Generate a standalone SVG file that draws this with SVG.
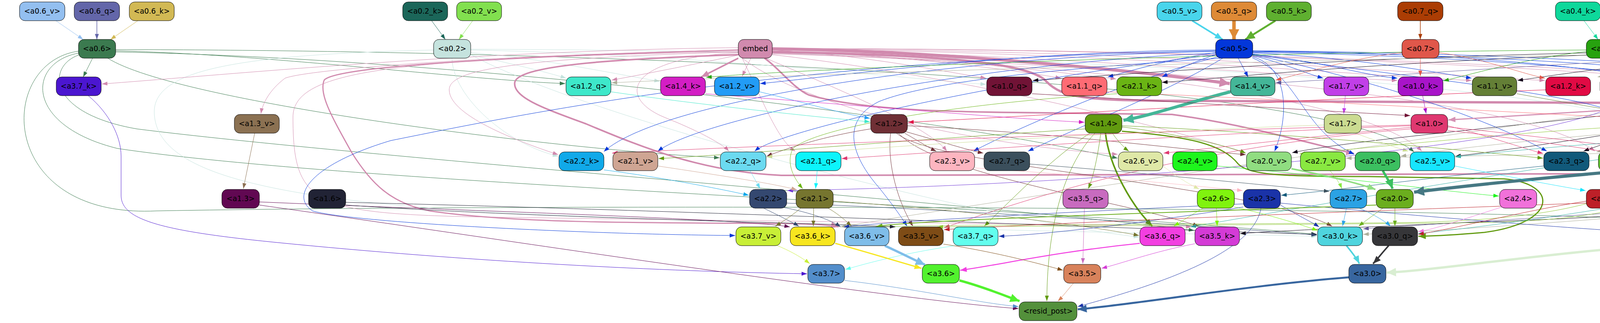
<svg xmlns="http://www.w3.org/2000/svg" width="5927" height="827" viewBox="0 0 5927 827">
<style>
.n rect{stroke:#000;stroke-width:1}
.n text{font-family:"DejaVu Sans","Liberation Sans",Verdana,sans-serif;font-size:18.67px;text-anchor:middle;fill:#000}
#edges path{fill:none}
.e06v{stroke:#93bff0;marker-end:url(#m06v)}.e06q{stroke:#6366a9;marker-end:url(#m06q)}.e06k{stroke:#d2b954;marker-end:url(#m06k)}
.e02k{stroke:#1b6659;marker-end:url(#m02k)}.e02v{stroke:#82e04f;marker-end:url(#m02v)}
.e05v{stroke:#49d5ec;marker-end:url(#m05v)}.e05q{stroke:#de8a36;marker-end:url(#m05q)}.e05k{stroke:#5fb030;marker-end:url(#m05k)}
.e07q{stroke:#ab3d04;marker-end:url(#m07q)}.e04k{stroke:#0ed89b;marker-end:url(#m04k)}.e04v{stroke:#5c18b1;marker-end:url(#m04v)}
.e00k{stroke:#114688;marker-end:url(#m00k)}.e00v{stroke:#ea345f;marker-end:url(#m00v)}.e03v{stroke:#fee50a;marker-end:url(#m03v)}
.e01k{stroke:#46c113;marker-end:url(#m01k)}.e01v{stroke:#f47e2d;marker-end:url(#m01v)}
.e06{stroke:#3b7a4f;marker-end:url(#m06)}.e02{stroke:#c5e3de;marker-end:url(#m02)}.eemb{stroke:#d18aae;marker-end:url(#memb)}
.e05{stroke:#0337da;marker-end:url(#m05)}.e07{stroke:#e0574a;marker-end:url(#m07)}.e04{stroke:#27a20f;marker-end:url(#m04)}
.e00{stroke:#12071a;marker-end:url(#m00)}.e03{stroke:#5f5596;marker-end:url(#m03)}.e01{stroke:#aeaf9b;marker-end:url(#m01)}
.e37k{stroke:#4b16d0;marker-end:url(#m37k)}.e12q{stroke:#3ee8ca;marker-end:url(#m12q)}.e14k{stroke:#d31ec4;marker-end:url(#m14k)}
.e12v{stroke:#229cf6;marker-end:url(#m12v)}.e10q{stroke:#711336;marker-end:url(#m10q)}.e11q{stroke:#fe6b74;marker-end:url(#m11q)}
.e21k{stroke:#6ab414;marker-end:url(#m21k)}.e14v{stroke:#44b698;marker-end:url(#m14v)}.e17v{stroke:#c13fe8;marker-end:url(#m17v)}
.e10k{stroke:#a814c9;marker-end:url(#m10k)}.e11v{stroke:#647f36;marker-end:url(#m11v)}.e12k{stroke:#e10a44;marker-end:url(#m12k)}
.e22v{stroke:#6d34d6;marker-end:url(#m22v)}.e15q{stroke:#4433cc;marker-end:url(#m15q)}.e15v{stroke:#552457;marker-end:url(#m15v)}
.e11k{stroke:#ef79e0;marker-end:url(#m11k)}.e10v{stroke:#d592b4;marker-end:url(#m10v)}
.e13v{stroke:#8b7152;marker-end:url(#m13v)}.e12{stroke:#6f2f35;marker-end:url(#m12)}.e14{stroke:#619a0f;marker-end:url(#m14)}
.e17{stroke:#cbdb91;marker-end:url(#m17)}.e10{stroke:#df3870;marker-end:url(#m10)}.e11{stroke:#8bc52f;marker-end:url(#m11)}
.e15{stroke:#33aea6;marker-end:url(#m15)}
.e22k{stroke:#11a9e9;marker-end:url(#m22k)}.e21v{stroke:#cfa593;marker-end:url(#m21v)}.e22q{stroke:#6bdaf0;marker-end:url(#m22q)}
.e21q{stroke:#0df4fb;marker-end:url(#m21q)}.e23v{stroke:#fdb5c0;marker-end:url(#m23v)}.e27q{stroke:#3b4f5c;marker-end:url(#m27q)}
.e26v{stroke:#dfe8a7;marker-end:url(#m26v)}.e24v{stroke:#1ef51d;marker-end:url(#m24v)}.e20v{stroke:#90dd81;marker-end:url(#m20v)}
.e27v{stroke:#89e841;marker-end:url(#m27v)}.e20q{stroke:#3cbf60;marker-end:url(#m20q)}.e25v{stroke:#17e5fe;marker-end:url(#m25v)}
.e23q{stroke:#11597a;marker-end:url(#m23q)}.e25k{stroke:#5dc42d;marker-end:url(#m25k)}.e20k{stroke:#467883;marker-end:url(#m20k)}
.e13{stroke:#610852;marker-end:url(#m13)}.e16{stroke:#212335;marker-end:url(#m16)}.e22{stroke:#344870;marker-end:url(#m22)}
.e21{stroke:#76752f;marker-end:url(#m21)}.e35q{stroke:#c86bbf;marker-end:url(#m35q)}.e26{stroke:#80f30e;marker-end:url(#m26)}
.e23{stroke:#1a33a8;marker-end:url(#m23)}.e27{stroke:#2ba2e4;marker-end:url(#m27)}.e20{stroke:#6bae1e;marker-end:url(#m20)}
.e24{stroke:#f171da;marker-end:url(#m24)}.e25{stroke:#bd2028;marker-end:url(#m25)}
.e37v{stroke:#c8ef37;marker-end:url(#m37v)}.e36k{stroke:#f7e61f;marker-end:url(#m36k)}.e36v{stroke:#7fbde9;marker-end:url(#m36v)}
.e35v{stroke:#7e4c16;marker-end:url(#m35v)}.e37q{stroke:#62feee;marker-end:url(#m37q)}.e36q{stroke:#f23fe1;marker-end:url(#m36q)}
.e35k{stroke:#d43bd6;marker-end:url(#m35k)}.e30k{stroke:#4fd4de;marker-end:url(#m30k)}.e30q{stroke:#363639;marker-end:url(#m30q)}
.e30v{stroke:#d9eed2;marker-end:url(#m30v)}
.e37{stroke:#538ecb;marker-end:url(#m37)}.e36{stroke:#52f22e;marker-end:url(#m36)}.e35{stroke:#d8825b;marker-end:url(#m35)}
.e30{stroke:#38669f;marker-end:url(#m30)}
.M05v{marker-end:url(#M05v)}.B05q{marker-end:url(#B05q)}.B05k{marker-end:url(#B05k)}.M01k{marker-end:url(#M01k)}
.M00v{marker-end:url(#M00v)}.Memb{marker-end:url(#Memb)}.Bemb{marker-end:url(#Bemb)}.B14v{marker-end:url(#B14v)}
.M10v{marker-end:url(#M10v)}.M14{marker-end:url(#M14)}.B20q{marker-end:url(#B20q)}.B20k{marker-end:url(#B20k)}
.M20v{marker-end:url(#M20v)}.M36k{marker-end:url(#M36k)}.B36v{marker-end:url(#B36v)}.M36q{marker-end:url(#M36q)}
.B36{marker-end:url(#B36)}.M30q{marker-end:url(#M30q)}.M30k{marker-end:url(#M30k)}.B30v{marker-end:url(#B30v)}.B30{marker-end:url(#B30)}
</style>
<defs>
<path id="ah" d="M0,0L14,5L0,10z"/>
<marker id="m06v" viewBox="0 0 14 10" refX="14" refY="5" markerWidth="14" markerHeight="10" markerUnits="userSpaceOnUse" orient="auto"><use href="#ah" fill="#93bff0"/></marker>
<marker id="m06q" viewBox="0 0 14 10" refX="14" refY="5" markerWidth="14" markerHeight="10" markerUnits="userSpaceOnUse" orient="auto"><use href="#ah" fill="#6366a9"/></marker>
<marker id="m06k" viewBox="0 0 14 10" refX="14" refY="5" markerWidth="14" markerHeight="10" markerUnits="userSpaceOnUse" orient="auto"><use href="#ah" fill="#d2b954"/></marker>
<marker id="m02k" viewBox="0 0 14 10" refX="14" refY="5" markerWidth="14" markerHeight="10" markerUnits="userSpaceOnUse" orient="auto"><use href="#ah" fill="#1b6659"/></marker>
<marker id="m02v" viewBox="0 0 14 10" refX="14" refY="5" markerWidth="14" markerHeight="10" markerUnits="userSpaceOnUse" orient="auto"><use href="#ah" fill="#82e04f"/></marker>
<marker id="m05v" viewBox="0 0 14 10" refX="14" refY="5" markerWidth="14" markerHeight="10" markerUnits="userSpaceOnUse" orient="auto"><use href="#ah" fill="#49d5ec"/></marker>
<marker id="m05q" viewBox="0 0 14 10" refX="14" refY="5" markerWidth="14" markerHeight="10" markerUnits="userSpaceOnUse" orient="auto"><use href="#ah" fill="#de8a36"/></marker>
<marker id="m05k" viewBox="0 0 14 10" refX="14" refY="5" markerWidth="14" markerHeight="10" markerUnits="userSpaceOnUse" orient="auto"><use href="#ah" fill="#5fb030"/></marker>
<marker id="m07q" viewBox="0 0 14 10" refX="14" refY="5" markerWidth="14" markerHeight="10" markerUnits="userSpaceOnUse" orient="auto"><use href="#ah" fill="#ab3d04"/></marker>
<marker id="m04k" viewBox="0 0 14 10" refX="14" refY="5" markerWidth="14" markerHeight="10" markerUnits="userSpaceOnUse" orient="auto"><use href="#ah" fill="#0ed89b"/></marker>
<marker id="m04v" viewBox="0 0 14 10" refX="14" refY="5" markerWidth="14" markerHeight="10" markerUnits="userSpaceOnUse" orient="auto"><use href="#ah" fill="#5c18b1"/></marker>
<marker id="m00k" viewBox="0 0 14 10" refX="14" refY="5" markerWidth="14" markerHeight="10" markerUnits="userSpaceOnUse" orient="auto"><use href="#ah" fill="#114688"/></marker>
<marker id="m00v" viewBox="0 0 14 10" refX="14" refY="5" markerWidth="14" markerHeight="10" markerUnits="userSpaceOnUse" orient="auto"><use href="#ah" fill="#ea345f"/></marker>
<marker id="m03v" viewBox="0 0 14 10" refX="14" refY="5" markerWidth="14" markerHeight="10" markerUnits="userSpaceOnUse" orient="auto"><use href="#ah" fill="#fee50a"/></marker>
<marker id="m01k" viewBox="0 0 14 10" refX="14" refY="5" markerWidth="14" markerHeight="10" markerUnits="userSpaceOnUse" orient="auto"><use href="#ah" fill="#46c113"/></marker>
<marker id="m01v" viewBox="0 0 14 10" refX="14" refY="5" markerWidth="14" markerHeight="10" markerUnits="userSpaceOnUse" orient="auto"><use href="#ah" fill="#f47e2d"/></marker>
<marker id="m06" viewBox="0 0 14 10" refX="14" refY="5" markerWidth="14" markerHeight="10" markerUnits="userSpaceOnUse" orient="auto"><use href="#ah" fill="#3b7a4f"/></marker>
<marker id="m02" viewBox="0 0 14 10" refX="14" refY="5" markerWidth="14" markerHeight="10" markerUnits="userSpaceOnUse" orient="auto"><use href="#ah" fill="#c5e3de"/></marker>
<marker id="memb" viewBox="0 0 14 10" refX="14" refY="5" markerWidth="14" markerHeight="10" markerUnits="userSpaceOnUse" orient="auto"><use href="#ah" fill="#d18aae"/></marker>
<marker id="m05" viewBox="0 0 14 10" refX="14" refY="5" markerWidth="14" markerHeight="10" markerUnits="userSpaceOnUse" orient="auto"><use href="#ah" fill="#0337da"/></marker>
<marker id="m07" viewBox="0 0 14 10" refX="14" refY="5" markerWidth="14" markerHeight="10" markerUnits="userSpaceOnUse" orient="auto"><use href="#ah" fill="#e0574a"/></marker>
<marker id="m04" viewBox="0 0 14 10" refX="14" refY="5" markerWidth="14" markerHeight="10" markerUnits="userSpaceOnUse" orient="auto"><use href="#ah" fill="#27a20f"/></marker>
<marker id="m00" viewBox="0 0 14 10" refX="14" refY="5" markerWidth="14" markerHeight="10" markerUnits="userSpaceOnUse" orient="auto"><use href="#ah" fill="#12071a"/></marker>
<marker id="m03" viewBox="0 0 14 10" refX="14" refY="5" markerWidth="14" markerHeight="10" markerUnits="userSpaceOnUse" orient="auto"><use href="#ah" fill="#5f5596"/></marker>
<marker id="m01" viewBox="0 0 14 10" refX="14" refY="5" markerWidth="14" markerHeight="10" markerUnits="userSpaceOnUse" orient="auto"><use href="#ah" fill="#aeaf9b"/></marker>
<marker id="m37k" viewBox="0 0 14 10" refX="14" refY="5" markerWidth="14" markerHeight="10" markerUnits="userSpaceOnUse" orient="auto"><use href="#ah" fill="#4b16d0"/></marker>
<marker id="m12q" viewBox="0 0 14 10" refX="14" refY="5" markerWidth="14" markerHeight="10" markerUnits="userSpaceOnUse" orient="auto"><use href="#ah" fill="#3ee8ca"/></marker>
<marker id="m14k" viewBox="0 0 14 10" refX="14" refY="5" markerWidth="14" markerHeight="10" markerUnits="userSpaceOnUse" orient="auto"><use href="#ah" fill="#d31ec4"/></marker>
<marker id="m12v" viewBox="0 0 14 10" refX="14" refY="5" markerWidth="14" markerHeight="10" markerUnits="userSpaceOnUse" orient="auto"><use href="#ah" fill="#229cf6"/></marker>
<marker id="m10q" viewBox="0 0 14 10" refX="14" refY="5" markerWidth="14" markerHeight="10" markerUnits="userSpaceOnUse" orient="auto"><use href="#ah" fill="#711336"/></marker>
<marker id="m11q" viewBox="0 0 14 10" refX="14" refY="5" markerWidth="14" markerHeight="10" markerUnits="userSpaceOnUse" orient="auto"><use href="#ah" fill="#fe6b74"/></marker>
<marker id="m21k" viewBox="0 0 14 10" refX="14" refY="5" markerWidth="14" markerHeight="10" markerUnits="userSpaceOnUse" orient="auto"><use href="#ah" fill="#6ab414"/></marker>
<marker id="m14v" viewBox="0 0 14 10" refX="14" refY="5" markerWidth="14" markerHeight="10" markerUnits="userSpaceOnUse" orient="auto"><use href="#ah" fill="#44b698"/></marker>
<marker id="m17v" viewBox="0 0 14 10" refX="14" refY="5" markerWidth="14" markerHeight="10" markerUnits="userSpaceOnUse" orient="auto"><use href="#ah" fill="#c13fe8"/></marker>
<marker id="m10k" viewBox="0 0 14 10" refX="14" refY="5" markerWidth="14" markerHeight="10" markerUnits="userSpaceOnUse" orient="auto"><use href="#ah" fill="#a814c9"/></marker>
<marker id="m11v" viewBox="0 0 14 10" refX="14" refY="5" markerWidth="14" markerHeight="10" markerUnits="userSpaceOnUse" orient="auto"><use href="#ah" fill="#647f36"/></marker>
<marker id="m12k" viewBox="0 0 14 10" refX="14" refY="5" markerWidth="14" markerHeight="10" markerUnits="userSpaceOnUse" orient="auto"><use href="#ah" fill="#e10a44"/></marker>
<marker id="m22v" viewBox="0 0 14 10" refX="14" refY="5" markerWidth="14" markerHeight="10" markerUnits="userSpaceOnUse" orient="auto"><use href="#ah" fill="#6d34d6"/></marker>
<marker id="m15q" viewBox="0 0 14 10" refX="14" refY="5" markerWidth="14" markerHeight="10" markerUnits="userSpaceOnUse" orient="auto"><use href="#ah" fill="#4433cc"/></marker>
<marker id="m15v" viewBox="0 0 14 10" refX="14" refY="5" markerWidth="14" markerHeight="10" markerUnits="userSpaceOnUse" orient="auto"><use href="#ah" fill="#552457"/></marker>
<marker id="m11k" viewBox="0 0 14 10" refX="14" refY="5" markerWidth="14" markerHeight="10" markerUnits="userSpaceOnUse" orient="auto"><use href="#ah" fill="#ef79e0"/></marker>
<marker id="m10v" viewBox="0 0 14 10" refX="14" refY="5" markerWidth="14" markerHeight="10" markerUnits="userSpaceOnUse" orient="auto"><use href="#ah" fill="#d592b4"/></marker>
<marker id="m13v" viewBox="0 0 14 10" refX="14" refY="5" markerWidth="14" markerHeight="10" markerUnits="userSpaceOnUse" orient="auto"><use href="#ah" fill="#8b7152"/></marker>
<marker id="m12" viewBox="0 0 14 10" refX="14" refY="5" markerWidth="14" markerHeight="10" markerUnits="userSpaceOnUse" orient="auto"><use href="#ah" fill="#6f2f35"/></marker>
<marker id="m14" viewBox="0 0 14 10" refX="14" refY="5" markerWidth="14" markerHeight="10" markerUnits="userSpaceOnUse" orient="auto"><use href="#ah" fill="#619a0f"/></marker>
<marker id="m17" viewBox="0 0 14 10" refX="14" refY="5" markerWidth="14" markerHeight="10" markerUnits="userSpaceOnUse" orient="auto"><use href="#ah" fill="#cbdb91"/></marker>
<marker id="m10" viewBox="0 0 14 10" refX="14" refY="5" markerWidth="14" markerHeight="10" markerUnits="userSpaceOnUse" orient="auto"><use href="#ah" fill="#df3870"/></marker>
<marker id="m11" viewBox="0 0 14 10" refX="14" refY="5" markerWidth="14" markerHeight="10" markerUnits="userSpaceOnUse" orient="auto"><use href="#ah" fill="#8bc52f"/></marker>
<marker id="m15" viewBox="0 0 14 10" refX="14" refY="5" markerWidth="14" markerHeight="10" markerUnits="userSpaceOnUse" orient="auto"><use href="#ah" fill="#33aea6"/></marker>
<marker id="m22k" viewBox="0 0 14 10" refX="14" refY="5" markerWidth="14" markerHeight="10" markerUnits="userSpaceOnUse" orient="auto"><use href="#ah" fill="#11a9e9"/></marker>
<marker id="m21v" viewBox="0 0 14 10" refX="14" refY="5" markerWidth="14" markerHeight="10" markerUnits="userSpaceOnUse" orient="auto"><use href="#ah" fill="#cfa593"/></marker>
<marker id="m22q" viewBox="0 0 14 10" refX="14" refY="5" markerWidth="14" markerHeight="10" markerUnits="userSpaceOnUse" orient="auto"><use href="#ah" fill="#6bdaf0"/></marker>
<marker id="m21q" viewBox="0 0 14 10" refX="14" refY="5" markerWidth="14" markerHeight="10" markerUnits="userSpaceOnUse" orient="auto"><use href="#ah" fill="#0df4fb"/></marker>
<marker id="m23v" viewBox="0 0 14 10" refX="14" refY="5" markerWidth="14" markerHeight="10" markerUnits="userSpaceOnUse" orient="auto"><use href="#ah" fill="#fdb5c0"/></marker>
<marker id="m27q" viewBox="0 0 14 10" refX="14" refY="5" markerWidth="14" markerHeight="10" markerUnits="userSpaceOnUse" orient="auto"><use href="#ah" fill="#3b4f5c"/></marker>
<marker id="m26v" viewBox="0 0 14 10" refX="14" refY="5" markerWidth="14" markerHeight="10" markerUnits="userSpaceOnUse" orient="auto"><use href="#ah" fill="#dfe8a7"/></marker>
<marker id="m24v" viewBox="0 0 14 10" refX="14" refY="5" markerWidth="14" markerHeight="10" markerUnits="userSpaceOnUse" orient="auto"><use href="#ah" fill="#1ef51d"/></marker>
<marker id="m20v" viewBox="0 0 14 10" refX="14" refY="5" markerWidth="14" markerHeight="10" markerUnits="userSpaceOnUse" orient="auto"><use href="#ah" fill="#90dd81"/></marker>
<marker id="m27v" viewBox="0 0 14 10" refX="14" refY="5" markerWidth="14" markerHeight="10" markerUnits="userSpaceOnUse" orient="auto"><use href="#ah" fill="#89e841"/></marker>
<marker id="m20q" viewBox="0 0 14 10" refX="14" refY="5" markerWidth="14" markerHeight="10" markerUnits="userSpaceOnUse" orient="auto"><use href="#ah" fill="#3cbf60"/></marker>
<marker id="m25v" viewBox="0 0 14 10" refX="14" refY="5" markerWidth="14" markerHeight="10" markerUnits="userSpaceOnUse" orient="auto"><use href="#ah" fill="#17e5fe"/></marker>
<marker id="m23q" viewBox="0 0 14 10" refX="14" refY="5" markerWidth="14" markerHeight="10" markerUnits="userSpaceOnUse" orient="auto"><use href="#ah" fill="#11597a"/></marker>
<marker id="m25k" viewBox="0 0 14 10" refX="14" refY="5" markerWidth="14" markerHeight="10" markerUnits="userSpaceOnUse" orient="auto"><use href="#ah" fill="#5dc42d"/></marker>
<marker id="m20k" viewBox="0 0 14 10" refX="14" refY="5" markerWidth="14" markerHeight="10" markerUnits="userSpaceOnUse" orient="auto"><use href="#ah" fill="#467883"/></marker>
<marker id="m13" viewBox="0 0 14 10" refX="14" refY="5" markerWidth="14" markerHeight="10" markerUnits="userSpaceOnUse" orient="auto"><use href="#ah" fill="#610852"/></marker>
<marker id="m16" viewBox="0 0 14 10" refX="14" refY="5" markerWidth="14" markerHeight="10" markerUnits="userSpaceOnUse" orient="auto"><use href="#ah" fill="#212335"/></marker>
<marker id="m22" viewBox="0 0 14 10" refX="14" refY="5" markerWidth="14" markerHeight="10" markerUnits="userSpaceOnUse" orient="auto"><use href="#ah" fill="#344870"/></marker>
<marker id="m21" viewBox="0 0 14 10" refX="14" refY="5" markerWidth="14" markerHeight="10" markerUnits="userSpaceOnUse" orient="auto"><use href="#ah" fill="#76752f"/></marker>
<marker id="m35q" viewBox="0 0 14 10" refX="14" refY="5" markerWidth="14" markerHeight="10" markerUnits="userSpaceOnUse" orient="auto"><use href="#ah" fill="#c86bbf"/></marker>
<marker id="m26" viewBox="0 0 14 10" refX="14" refY="5" markerWidth="14" markerHeight="10" markerUnits="userSpaceOnUse" orient="auto"><use href="#ah" fill="#80f30e"/></marker>
<marker id="m23" viewBox="0 0 14 10" refX="14" refY="5" markerWidth="14" markerHeight="10" markerUnits="userSpaceOnUse" orient="auto"><use href="#ah" fill="#1a33a8"/></marker>
<marker id="m27" viewBox="0 0 14 10" refX="14" refY="5" markerWidth="14" markerHeight="10" markerUnits="userSpaceOnUse" orient="auto"><use href="#ah" fill="#2ba2e4"/></marker>
<marker id="m20" viewBox="0 0 14 10" refX="14" refY="5" markerWidth="14" markerHeight="10" markerUnits="userSpaceOnUse" orient="auto"><use href="#ah" fill="#6bae1e"/></marker>
<marker id="m24" viewBox="0 0 14 10" refX="14" refY="5" markerWidth="14" markerHeight="10" markerUnits="userSpaceOnUse" orient="auto"><use href="#ah" fill="#f171da"/></marker>
<marker id="m25" viewBox="0 0 14 10" refX="14" refY="5" markerWidth="14" markerHeight="10" markerUnits="userSpaceOnUse" orient="auto"><use href="#ah" fill="#bd2028"/></marker>
<marker id="m37v" viewBox="0 0 14 10" refX="14" refY="5" markerWidth="14" markerHeight="10" markerUnits="userSpaceOnUse" orient="auto"><use href="#ah" fill="#c8ef37"/></marker>
<marker id="m36k" viewBox="0 0 14 10" refX="14" refY="5" markerWidth="14" markerHeight="10" markerUnits="userSpaceOnUse" orient="auto"><use href="#ah" fill="#f7e61f"/></marker>
<marker id="m36v" viewBox="0 0 14 10" refX="14" refY="5" markerWidth="14" markerHeight="10" markerUnits="userSpaceOnUse" orient="auto"><use href="#ah" fill="#7fbde9"/></marker>
<marker id="m35v" viewBox="0 0 14 10" refX="14" refY="5" markerWidth="14" markerHeight="10" markerUnits="userSpaceOnUse" orient="auto"><use href="#ah" fill="#7e4c16"/></marker>
<marker id="m37q" viewBox="0 0 14 10" refX="14" refY="5" markerWidth="14" markerHeight="10" markerUnits="userSpaceOnUse" orient="auto"><use href="#ah" fill="#62feee"/></marker>
<marker id="m36q" viewBox="0 0 14 10" refX="14" refY="5" markerWidth="14" markerHeight="10" markerUnits="userSpaceOnUse" orient="auto"><use href="#ah" fill="#f23fe1"/></marker>
<marker id="m35k" viewBox="0 0 14 10" refX="14" refY="5" markerWidth="14" markerHeight="10" markerUnits="userSpaceOnUse" orient="auto"><use href="#ah" fill="#d43bd6"/></marker>
<marker id="m30k" viewBox="0 0 14 10" refX="14" refY="5" markerWidth="14" markerHeight="10" markerUnits="userSpaceOnUse" orient="auto"><use href="#ah" fill="#4fd4de"/></marker>
<marker id="m30q" viewBox="0 0 14 10" refX="14" refY="5" markerWidth="14" markerHeight="10" markerUnits="userSpaceOnUse" orient="auto"><use href="#ah" fill="#363639"/></marker>
<marker id="m30v" viewBox="0 0 14 10" refX="14" refY="5" markerWidth="14" markerHeight="10" markerUnits="userSpaceOnUse" orient="auto"><use href="#ah" fill="#d9eed2"/></marker>
<marker id="m37" viewBox="0 0 14 10" refX="14" refY="5" markerWidth="14" markerHeight="10" markerUnits="userSpaceOnUse" orient="auto"><use href="#ah" fill="#538ecb"/></marker>
<marker id="m36" viewBox="0 0 14 10" refX="14" refY="5" markerWidth="14" markerHeight="10" markerUnits="userSpaceOnUse" orient="auto"><use href="#ah" fill="#52f22e"/></marker>
<marker id="m35" viewBox="0 0 14 10" refX="14" refY="5" markerWidth="14" markerHeight="10" markerUnits="userSpaceOnUse" orient="auto"><use href="#ah" fill="#d8825b"/></marker>
<marker id="m30" viewBox="0 0 14 10" refX="14" refY="5" markerWidth="14" markerHeight="10" markerUnits="userSpaceOnUse" orient="auto"><use href="#ah" fill="#38669f"/></marker>
<marker id="M05v" viewBox="0 0 14 10" refX="14" refY="5" markerWidth="20" markerHeight="16" preserveAspectRatio="none" markerUnits="userSpaceOnUse" orient="auto"><use href="#ah" fill="#49d5ec"/></marker>
<marker id="B05q" viewBox="0 0 14 10" refX="14" refY="5" markerWidth="26" markerHeight="27" preserveAspectRatio="none" markerUnits="userSpaceOnUse" orient="auto"><use href="#ah" fill="#de8a36"/></marker>
<marker id="B05k" viewBox="0 0 14 10" refX="14" refY="5" markerWidth="24" markerHeight="22" preserveAspectRatio="none" markerUnits="userSpaceOnUse" orient="auto"><use href="#ah" fill="#5fb030"/></marker>
<marker id="M01k" viewBox="0 0 14 10" refX="14" refY="5" markerWidth="20" markerHeight="16" preserveAspectRatio="none" markerUnits="userSpaceOnUse" orient="auto"><use href="#ah" fill="#46c113"/></marker>
<marker id="M00v" viewBox="0 0 14 10" refX="14" refY="5" markerWidth="17" markerHeight="13" preserveAspectRatio="none" markerUnits="userSpaceOnUse" orient="auto"><use href="#ah" fill="#ea345f"/></marker>
<marker id="Memb" viewBox="0 0 14 10" refX="14" refY="5" markerWidth="20" markerHeight="16" preserveAspectRatio="none" markerUnits="userSpaceOnUse" orient="auto"><use href="#ah" fill="#d18aae"/></marker>
<marker id="Bemb" viewBox="0 0 14 10" refX="14" refY="5" markerWidth="26" markerHeight="25" preserveAspectRatio="none" markerUnits="userSpaceOnUse" orient="auto"><use href="#ah" fill="#d18aae"/></marker>
<marker id="B14v" viewBox="0 0 14 10" refX="14" refY="5" markerWidth="26" markerHeight="25" preserveAspectRatio="none" markerUnits="userSpaceOnUse" orient="auto"><use href="#ah" fill="#44b698"/></marker>
<marker id="M10v" viewBox="0 0 14 10" refX="14" refY="5" markerWidth="18" markerHeight="14" preserveAspectRatio="none" markerUnits="userSpaceOnUse" orient="auto"><use href="#ah" fill="#d592b4"/></marker>
<marker id="M14" viewBox="0 0 14 10" refX="14" refY="5" markerWidth="19" markerHeight="15" preserveAspectRatio="none" markerUnits="userSpaceOnUse" orient="auto"><use href="#ah" fill="#619a0f"/></marker>
<marker id="B20q" viewBox="0 0 14 10" refX="14" refY="5" markerWidth="24" markerHeight="22" preserveAspectRatio="none" markerUnits="userSpaceOnUse" orient="auto"><use href="#ah" fill="#3cbf60"/></marker>
<marker id="B20k" viewBox="0 0 14 10" refX="14" refY="5" markerWidth="26" markerHeight="25" preserveAspectRatio="none" markerUnits="userSpaceOnUse" orient="auto"><use href="#ah" fill="#467883"/></marker>
<marker id="M20v" viewBox="0 0 14 10" refX="14" refY="5" markerWidth="20" markerHeight="16" preserveAspectRatio="none" markerUnits="userSpaceOnUse" orient="auto"><use href="#ah" fill="#90dd81"/></marker>
<marker id="M36k" viewBox="0 0 14 10" refX="14" refY="5" markerWidth="18" markerHeight="14" preserveAspectRatio="none" markerUnits="userSpaceOnUse" orient="auto"><use href="#ah" fill="#f7e61f"/></marker>
<marker id="B36v" viewBox="0 0 14 10" refX="14" refY="5" markerWidth="24" markerHeight="22" preserveAspectRatio="none" markerUnits="userSpaceOnUse" orient="auto"><use href="#ah" fill="#7fbde9"/></marker>
<marker id="M36q" viewBox="0 0 14 10" refX="14" refY="5" markerWidth="17" markerHeight="13" preserveAspectRatio="none" markerUnits="userSpaceOnUse" orient="auto"><use href="#ah" fill="#f23fe1"/></marker>
<marker id="B36" viewBox="0 0 14 10" refX="14" refY="5" markerWidth="24" markerHeight="22" preserveAspectRatio="none" markerUnits="userSpaceOnUse" orient="auto"><use href="#ah" fill="#52f22e"/></marker>
<marker id="M30q" viewBox="0 0 14 10" refX="14" refY="5" markerWidth="20" markerHeight="16" preserveAspectRatio="none" markerUnits="userSpaceOnUse" orient="auto"><use href="#ah" fill="#363639"/></marker>
<marker id="M30k" viewBox="0 0 14 10" refX="14" refY="5" markerWidth="20" markerHeight="16" preserveAspectRatio="none" markerUnits="userSpaceOnUse" orient="auto"><use href="#ah" fill="#4fd4de"/></marker>
<marker id="B30v" viewBox="0 0 14 10" refX="14" refY="5" markerWidth="24" markerHeight="22" preserveAspectRatio="none" markerUnits="userSpaceOnUse" orient="auto"><use href="#ah" fill="#d9eed2"/></marker>
<marker id="B30" viewBox="0 0 14 10" refX="14" refY="5" markerWidth="23" markerHeight="20" preserveAspectRatio="none" markerUnits="userSpaceOnUse" orient="auto"><use href="#ah" fill="#38669f"/></marker>
</defs>
<rect width="5927" height="827" fill="#fff"/>
<g id="edges">
<path class="e06v" d="M143,53L213,101"/>
<path class="e06q" stroke-width="1.5" d="M248,53L248,101"/>
<path class="e06k" d="M353,53L283,101"/>
<path class="e02k" d="M1105,53L1140,101"/>
<path class="e02v" d="M1210,53L1175,101"/>
<path class="e05v M05v" stroke-width="4" d="M3052,53L3130,101"/>
<path class="e05q B05q" stroke-width="9" d="M3159,53L3159,101"/>
<path class="e05k B05k" stroke-width="5" d="M3265,53L3188,101"/>
<path class="e07q" stroke-width="1.5" d="M3636,53L3636,101"/>
<path class="e04k" d="M4055,53L4091,101"/>
<path class="e04v" d="M4161,53L4126,101"/>
<path class="e00k" stroke-width="1.5" d="M4708,53L4778,101"/>
<path class="e00v M00v" stroke-width="2.5" d="M4812,53L4812,101"/>
<path class="e03v" d="M4948,53L4943,101"/>
<path class="e01k M01k" stroke-width="4" d="M5148,53L5177,101"/>
<path class="e01v" d="M5253,53L5208,101"/>
<path class="e06" d="M237,149L213,197"/>
<path class="e06" d="M296,130C700,140 1200,205 1447,214"/>
<path class="e06" d="M276,149C450,260 1400,380 1842,404"/>
<path class="e06" d="M201,131C-10,160 -10,560 400,540C1500,520 4300,530 4405,581"/>
<path class="e06" d="M201,136C70,160 60,320 300,380C900,470 2500,520 3371,600"/>
<path class="e06" d="M201,141C120,170 120,290 350,330C900,400 2500,520 3057,590"/>
<path class="e06" d="M296,127C1500,128 3400,200 3620,389"/>
<path class="e06" d="M296,133C1200,150 2400,300 2861,405"/>
<path class="e02" d="M1200,140C1300,160 1400,185 1449,200"/>
<path class="e02" d="M1205,135C1400,150 1600,195 1689,208"/>
<path class="e02" d="M1205,128C1800,140 2300,200 2524,216"/>
<path class="e02" d="M1157,149C1160,250 1300,370 1429,400"/>
<path class="e02" d="M1205,140C1500,300 2500,560 2916,607"/>
<path class="e02" d="M1205,126C2500,130 4200,200 4423,389"/>
<path class="e02" d="M1110,128C600,140 390,180 395,290C400,420 600,500 1200,540C2200,590 3200,600 3371,605"/>
<path class="eemb" d="M1890,122C1200,130 600,190 261,215"/>
<path class="eemb" d="M1890,128C1300,140 800,175 730,200C690,230 672,265 668,291"/>
<path class="eemb" d="M1895,140C1800,160 1650,190 1566,205"/>
<path class="eemb Memb" stroke-width="4" d="M1890,149L1795,197"/>
<path class="eemb" d="M1922,149L1900,195"/>
<path class="eemb" d="M1890,135C1600,150 1580,250 1700,300C1800,340 1850,370 1866,387"/>
<path class="eemb" d="M1890,133C1300,150 1150,180 1150,230C1150,300 1350,370 1429,396"/>
<path class="eemb" d="M1900,149C1950,250 1990,360 2036,387"/>
<path class="eemb" d="M1960,149C2200,250 2380,330 2424,387"/>
<path class="eemb" d="M1977,128C2200,140 2400,180 2524,200"/>
<path class="eemb" d="M1977,130C2300,140 2600,180 2716,200"/>
<path class="eemb" d="M1977,132C2400,145 2750,190 2857,202"/>
<path class="eemb Bemb" stroke-width="8" d="M1977,125C2400,130 2900,180 3148,214"/>
<path class="eemb" d="M1977,127C2600,135 3300,195 3577,206"/>
<path class="eemb" d="M1977,126C2800,130 3500,195 3767,206"/>
<path class="eemb" d="M1977,125C3000,128 3700,195 3955,206"/>
<path class="eemb" d="M1977,124C3200,126 4000,180 4232,197"/>
<path class="eemb" d="M1977,124C3400,125 4300,195 4564,206"/>
<path class="eemb Bemb" stroke-width="6" d="M1977,133C2400,140 2640,160 2680,210C2720,250 2780,257 3000,258L4250,264C4420,272 4455,320 4447,387"/>
<path class="eemb Memb" stroke-width="4" d="M1957,149C1990,170 2030,225 2070,243C2200,280 2400,286 2600,288L3000,293C3200,320 3400,380 3466,393"/>
<path class="eemb Memb" stroke-width="4" d="M1890,140C1600,150 1330,165 1318,210C1310,250 1400,280 1500,317C1650,380 1800,440 2000,449L4100,445C4300,460 4400,530 4432,579"/>
<path class="eemb Memb" stroke-width="3" d="M1890,128C1300,145 860,170 830,205C815,240 850,300 900,390C950,470 1000,520 1100,540C1300,570 1600,571 2000,572C2100,574 2135,578 2147,581"/>
<path class="eemb" d="M1890,132C1000,150 750,180 750,300C750,520 800,545 1200,555C2200,570 2900,575 3050,581"/>
<path class="eemb" d="M1900,149C2100,300 2600,380 2861,395"/>
<path class="eemb" d="M1977,138C2800,160 3500,250 3640,387"/>
<path class="eemb" d="M1977,136C3000,170 3900,250 4083,387"/>
<path class="eemb" d="M1977,140C2500,200 3000,330 3189,392"/>
<path class="e05" d="M3170,149L3195,197"/>
<path class="e05" d="M3206,142C3280,160 3350,190 3387,200"/>
<path class="e05" d="M3206,145C3300,170 3300,300 3263,387"/>
<path class="e05" d="M3206,148C3330,200 3330,330 3467,395"/>
<path class="e05" d="M3206,140C3500,200 3800,300 3960,387"/>
<path class="e05" d="M3206,139C3600,200 4180,250 4180,320C4180,360 4170,375 4163,387"/>
<path class="e05" d="M3206,138C3400,160 3500,195 3577,200"/>
<path class="e05" d="M3206,135C3500,150 3700,190 3767,200"/>
<path class="e05" d="M3206,132C3800,140 4250,170 4372,197"/>
<path class="e05" d="M3206,130C4000,135 4600,190 4753,205"/>
<path class="e05" d="M3206,134C4200,150 4600,250 4900,290C5000,330 4950,420 4800,480C4700,530 4600,570 4506,590"/>
<path class="e05" d="M3206,131C4200,140 4500,250 4500,320C4500,360 4480,380 4470,387"/>
<path class="e05" d="M3112,128C2600,130 2100,200 1946,214"/>
<path class="e05" d="M3112,135C3000,150 2900,180 2836,197"/>
<path class="e05" d="M3112,140C3050,160 3000,185 2975,197"/>
<path class="e05" d="M3112,132C2500,140 1700,250 1546,388"/>
<path class="e05" d="M3112,136C2500,160 1800,300 1684,387"/>
<path class="e05" d="M3112,140C2600,200 2000,330 1932,387"/>
<path class="e05" d="M3120,145C2900,200 2600,330 2492,387"/>
<path class="e05" d="M3130,149C3000,230 2750,330 2632,387"/>
<path class="e05" d="M3125,149C2800,170 2400,200 2250,260C2150,310 2180,400 2250,480C2290,530 2310,560 2322,579"/>
<path class="e05" d="M3112,130C2000,150 1300,300 1000,360C800,420 740,500 800,540C900,570 1500,600 1882,603"/>
<path class="e00" d="M4765,143C4720,160 4690,185 4672,195"/>
<path class="e00" d="M4764,135C4500,150 4300,180 4219,197"/>
<path class="e00" d="M4764,138C4550,150 4420,180 4358,197"/>
<path class="e00" d="M4764,130C4300,140 4000,190 3885,206"/>
<path class="e00" d="M4764,128C3800,130 3200,195 2975,211"/>
<path class="e00" d="M4764,127C3600,128 2900,190 2644,206"/>
<path class="e00" d="M4790,149C4600,250 4200,330 4054,387"/>
<path class="e00" d="M4800,149C4700,300 4400,370 4209,396"/>
<path class="e00" d="M4859,140C4900,200 4300,330 3726,400"/>
<path class="e00" d="M4859,145C4900,250 3600,330 3308,391"/>
<path class="e00" d="M4859,138C5100,300 4800,520 4000,560C3500,580 3300,590 3175,598"/>
<path class="e00" d="M4859,136C5400,170 5820,200 5820,290L5820,420C5820,480 5600,520 5400,540C5000,580 4700,600 4506,604"/>
<path class="e01" d="M5138,128C4000,130 2000,190 1566,212"/>
<path class="e01" d="M5138,132C4600,140 4200,180 4090,197"/>
<path class="e01" d="M5138,136C4800,150 4550,195 4493,208"/>
<path class="e01" d="M5138,139C4900,160 4750,195 4682,206"/>
<path class="e01" d="M5140,143C5000,170 4920,200 4871,206"/>
<path class="e01" d="M5150,149C5000,300 4300,340 4087,389"/>
<path class="e01" d="M5138,145C4000,300 2500,520 2152,581"/>
<path class="e01" d="M5233,135C5900,150 5920,300 5920,420C5920,500 5700,525 5500,525C5000,540 4700,585 4506,592"/>
<path class="e01" d="M5233,128C5480,140 5480,250 5300,258C4800,290 4000,340 3586,400"/>
<path class="e01" d="M5233,132C5700,150 5760,260 5600,320C5300,380 4200,390 3446,405"/>
<path class="e01" d="M5233,138C5800,170 5820,320 5700,400C5400,440 4300,560 3490,600"/>
<path class="e03" d="M4910,149L4847,196"/>
<path class="e03" d="M4893,132C4200,140 3500,200 3266,212"/>
<path class="e03" d="M4987,128C5500,150 5600,200 5580,240C5540,310 5300,380 5000,470C4500,530 3700,570 3490,586"/>
<path class="e04" d="M4061,128C3000,135 2000,180 1808,198"/>
<path class="e04" d="M4061,132C3900,150 3750,195 3695,207"/>
<path class="e04" d="M4156,128C4400,140 4500,185 4564,200"/>
<path class="e04" d="M4156,131C4700,140 4900,180 4890,230C4870,300 4600,350 4500,389"/>
<path class="e07" d="M3636,149L3636,195"/>
<path class="e07" d="M3589,135C3450,150 3330,190 3266,205"/>
<path class="e07" d="M3684,135C3800,150 3900,190 3955,200"/>
<path class="e12v" d="M1944,235C2050,260 2150,290 2227,303"/>
<path class="e12q" d="M1564,235C1800,270 2100,300 2227,312"/>
<path class="e12k" d="M3957,230C3200,260 2600,300 2325,313"/>
<path class="e14k" d="M1806,240C2200,270 2600,305 2776,313"/>
<path class="e14v B14v" stroke-width="8" d="M3150,235C3050,260 2950,295 2876,308"/>
<path class="e17v" d="M3444,245L3440,291"/>
<path class="e10k" d="M3642,245L3651,291"/>
<path class="e10q" d="M2642,240C3000,260 3400,285 3610,296"/>
<path class="e10v M10v" stroke-width="3" d="M4755,243C4400,265 3900,295 3708,307"/>
<path class="e11q" d="M2834,235C3400,260 4000,295 4236,305"/>
<path class="e11v" d="M3883,240C4050,270 4180,292 4236,297"/>
<path class="e11k" d="M4566,237C4480,260 4400,285 4336,297"/>
<path class="e15v" d="M4491,238C4600,265 4750,300 4812,305"/>
<path class="e15q" d="M4352,240C4500,260 4700,300 4812,312"/>
<path class="e13v" d="M652,341L623,483"/>
<path class="e37k" d="M226,245C280,290 310,350 310,400L310,500C310,560 400,590 700,620C1200,670 1700,695 2066,701"/>
<path class="e12" d="M2316,341C2350,360 2380,380 2397,387"/>
<path class="e12" d="M2280,341C2270,420 2300,520 2337,579"/>
<path class="e12" d="M2315,336C2400,360 2480,385 2517,392"/>
<path class="e12" d="M2229,330C2100,350 2000,385 1963,400"/>
<path class="e12" d="M2295,341C2400,430 3200,470 3410,579"/>
<path class="e12" d="M2323,322C2700,340 3000,380 3189,396"/>
<path class="e12" d="M2300,341C2400,450 2900,520 3068,579"/>
<path class="e14" d="M2848,341C2860,360 2880,380 2890,387"/>
<path class="e14" d="M2818,341C2810,400 2800,450 2786,483"/>
<path class="e14 M14" stroke-width="4" d="M2830,341C2840,430 2900,530 2950,579"/>
<path class="e14" d="M2803,341C2700,450 2680,650 2680,771"/>
<path class="e14" d="M2790,341C2700,400 2600,500 2520,579"/>
<path class="e14 M14" stroke-width="3" d="M2872,336C3050,350 3130,370 3170,420C3200,450 3300,452 3500,452L3850,458C3990,470 3990,570 3800,595C3720,602 3680,604 3631,605"/>
<path class="e14" d="M2778,330C2300,360 1900,395 1686,406"/>
<path class="e14" d="M2872,325C3000,340 3150,375 3189,392"/>
<path class="e14" d="M2872,322C3300,340 3800,390 3950,405"/>
<path class="e17" d="M3390,320C2800,340 2100,385 1963,402"/>
<path class="e17" d="M3470,341C3520,360 3580,380 3605,387"/>
<path class="e10" d="M3612,320C3000,335 2000,370 1567,392"/>
<path class="e10" d="M3612,322C3100,340 2400,390 2155,406"/>
<path class="e10" d="M3612,326C3400,345 3100,380 2979,392"/>
<path class="e10" d="M3706,322C3800,345 3900,380 3950,393"/>
<path class="e10" d="M3706,325C3950,350 4250,390 4381,398"/>
<path class="e10" d="M3612,330C3000,380 2600,520 2417,583"/>
<path class="e10" d="M3706,334C4100,380 4480,440 4475,500C4470,540 4465,560 4460,579"/>
<path class="e11" d="M4252,341C4220,360 4200,380 4185,387"/>
<path class="e11" d="M4325,341C4360,360 4390,380 4400,387"/>
<path class="e11" d="M4238,320C3900,335 3500,380 3327,394"/>
<path class="e11" d="M4280,341C4250,480 4100,560 3600,570C3000,575 2400,575 2240,581"/>
<path class="e11" d="M4295,341C4310,500 4200,560 3800,570C3000,578 2500,580 2400,581"/>
<path class="e15" d="M4814,320C4300,360 3400,520 3048,581"/>
<path class="e15" d="M4830,341C4700,450 4000,560 3631,598"/>
<path class="e15" d="M4814,325C4400,340 3900,380 3726,402"/>
<path class="e13" d="M664,525C1200,600 2300,770 2607,790"/>
<path class="e13" d="M664,517C1200,540 1900,560 2022,581"/>
<path class="e16" d="M885,525C1400,560 2100,570 2292,581"/>
<path class="e16" d="M885,518C1800,540 3000,590 3371,600"/>
<path class="e22q" d="M1920,437L1946,483"/>
<path class="e22k" d="M1546,435C1700,455 1850,485 1917,500"/>
<path class="e22v" d="M4153,245C4150,350 3000,470 2016,488"/>
<path class="e21q" d="M2092,437L2088,483"/>
<path class="e21k" d="M2860,240C2500,260 2100,320 2030,380C2010,420 2035,460 2055,483"/>
<path class="e21v" d="M1684,425C1850,450 1980,470 2040,486"/>
<path class="e23v" d="M2495,430C2800,450 3050,475 3181,488"/>
<path class="e23q" d="M3952,425C3700,450 3400,490 3280,500"/>
<path class="e26v" d="M2977,425C3010,450 3040,470 3070,484"/>
<path class="e24v" d="M3116,425C3400,450 3700,490 3837,502"/>
<path class="e27v" d="M3405,437C3420,455 3430,470 3435,483"/>
<path class="e27q" d="M2636,420C2900,440 3250,475 3403,490"/>
<path class="e20q B20q" stroke-width="6" d="M3540,437C3550,455 3560,470 3565,483"/>
<path class="e20v M20v" stroke-width="4" d="M3306,432C3400,450 3480,470 3521,485"/>
<path class="e20k B20k" stroke-width="8" d="M4383,420C4100,440 3800,470 3620,492"/>
<path class="e25k" d="M4138,437L4118,483"/>
<path class="e25v" d="M3724,425C3850,450 3980,475 4059,488"/>
<path class="e35q" d="M2776,533L2772,675"/>
<path class="e22" d="M1955,533C1990,550 2030,570 2045,579"/>
<path class="e22" d="M2000,530C2080,545 2130,565 2152,581"/>
<path class="e22" d="M2014,520C2500,540 3100,580 3371,602"/>
<path class="e21" d="M2083,533L2082,579"/>
<path class="e21" d="M2120,533C2150,550 2170,570 2180,579"/>
<path class="e21" d="M2133,515C2500,540 2800,580 2916,603"/>
<path class="e21" d="M2050,533C2030,550 2000,570 1985,579"/>
<path class="e26" d="M3114,533L3116,579"/>
<path class="e26" d="M3160,530C3250,550 3330,575 3373,590"/>
<path class="e26" d="M3080,533C3050,550 3020,570 3005,579"/>
<path class="e23" d="M3183,530C3000,560 2700,600 2557,605"/>
<path class="e23" d="M3278,525C3320,550 3360,570 3377,581"/>
<path class="e23" d="M3228,533C3210,640 3000,720 2759,785"/>
<path class="e23" d="M3278,520C3700,560 4200,600 4387,603"/>
<path class="e23" d="M3183,522C2800,540 2300,565 2160,581"/>
<path class="e27" d="M3447,533L3437,579"/>
<path class="e27" d="M3480,533C3520,550 3550,570 3560,579"/>
<path class="e20" d="M3571,533L3571,579"/>
<path class="e20" d="M3540,533C3510,555 3490,570 3478,579"/>
<path class="e20" stroke-width="2" d="M3523,525C3000,545 2400,560 2245,579"/>
<path class="e24" d="M3845,530C3750,560 3680,585 3631,593"/>
<path class="e25" d="M4156,518C4250,540 4350,575 4387,587"/>
<path class="e25" d="M4061,515C3900,540 3750,580 3631,600"/>
<path class="e25" d="M4061,520C3500,540 2700,570 2417,588"/>
<path class="e37v" d="M1990,629C2030,645 2060,665 2073,675"/>
<path class="e37q" d="M2445,629C2300,650 2200,680 2164,690"/>
<path class="e36k M36k" stroke-width="3" d="M2138,623C2200,640 2300,670 2359,687"/>
<path class="e36v B36v" stroke-width="6" d="M2265,629C2300,645 2340,665 2368,678"/>
<path class="e36q M36q" stroke-width="2.5" d="M2918,623C2700,645 2550,680 2458,692"/>
<path class="e35v" d="M2415,625C2550,645 2680,680 2721,692"/>
<path class="e35k" d="M3059,624C2950,645 2870,675 2820,687"/>
<path class="e30q M30q" stroke-width="4" d="M3555,629C3540,645 3525,665 3515,675"/>
<path class="e30k M30k" stroke-width="4" d="M3447,629C3460,645 3475,665 3480,675"/>
<path class="e30v B30v" stroke-width="6" d="M4389,617C4000,640 3700,690 3550,698"/>
<path class="e36 B36" stroke-width="6" d="M2456,718C2520,735 2580,760 2610,771"/>
<path class="e35" d="M2748,725C2735,740 2720,760 2708,771"/>
<path class="e30 B30" stroke-width="5" d="M3453,710C3200,730 2900,780 2759,792"/>
<path class="e37" d="M2162,718C2350,740 2500,775 2607,785"/>
</g>
<g id="n_a0_6_v" class="n"><rect x="50" y="5" width="116" height="48" rx="14" fill="#93bff0"/><text x="108" y="35">&lt;a0.6_v&gt;</text></g>
<g id="n_a0_6_q" class="n"><rect x="190" y="5" width="116" height="48" rx="14" fill="#6366a9"/><text x="248" y="35">&lt;a0.6_q&gt;</text></g>
<g id="n_a0_6_k" class="n"><rect x="331" y="5" width="115" height="48" rx="14" fill="#d2b954"/><text x="388.5" y="35">&lt;a0.6_k&gt;</text></g>
<g id="n_a0_2_k" class="n"><rect x="1031" y="5" width="115" height="48" rx="14" fill="#1b6659"/><text x="1088.5" y="35">&lt;a0.2_k&gt;</text></g>
<g id="n_a0_2_v" class="n"><rect x="1169" y="5" width="115" height="48" rx="14" fill="#82e04f"/><text x="1226.5" y="35">&lt;a0.2_v&gt;</text></g>
<g id="n_a0_5_v" class="n"><rect x="2962" y="5" width="115" height="48" rx="14" fill="#49d5ec"/><text x="3019.5" y="35">&lt;a0.5_v&gt;</text></g>
<g id="n_a0_5_q" class="n"><rect x="3101" y="5" width="116" height="48" rx="14" fill="#de8a36"/><text x="3159" y="35">&lt;a0.5_q&gt;</text></g>
<g id="n_a0_5_k" class="n"><rect x="3242" y="5" width="115" height="48" rx="14" fill="#5fb030"/><text x="3299.5" y="35">&lt;a0.5_k&gt;</text></g>
<g id="n_a0_7_q" class="n"><rect x="3578" y="5" width="116" height="48" rx="14" fill="#ab3d04"/><text x="3636" y="35">&lt;a0.7_q&gt;</text></g>
<g id="n_a0_4_k" class="n"><rect x="3982" y="5" width="115" height="48" rx="14" fill="#0ed89b"/><text x="4039.5" y="35">&lt;a0.4_k&gt;</text></g>
<g id="n_a0_4_v" class="n"><rect x="4120" y="5" width="115" height="48" rx="14" fill="#5c18b1"/><text x="4177.5" y="35">&lt;a0.4_v&gt;</text></g>
<g id="n_a0_0_k" class="n"><rect x="4616" y="5" width="115" height="48" rx="14" fill="#114688"/><text x="4673.5" y="35">&lt;a0.0_k&gt;</text></g>
<g id="n_a0_0_v" class="n"><rect x="4755" y="5" width="115" height="48" rx="14" fill="#ea345f"/><text x="4812.5" y="35">&lt;a0.0_v&gt;</text></g>
<g id="n_a0_3_v" class="n"><rect x="4893" y="5" width="115" height="48" rx="14" fill="#fee50a"/><text x="4950.5" y="35">&lt;a0.3_v&gt;</text></g>
<g id="n_a0_1_k" class="n"><rect x="5080" y="5" width="115" height="48" rx="14" fill="#46c113"/><text x="5137.5" y="35">&lt;a0.1_k&gt;</text></g>
<g id="n_a0_1_v" class="n"><rect x="5219" y="5" width="115" height="48" rx="14" fill="#f47e2d"/><text x="5276.5" y="35">&lt;a0.1_v&gt;</text></g>
<g id="n_a0_6" class="n"><rect x="201" y="101" width="95" height="48" rx="14" fill="#3b7a4f"/><text x="248.5" y="131">&lt;a0.6&gt;</text></g>
<g id="n_a0_2" class="n"><rect x="1110" y="101" width="95" height="48" rx="14" fill="#c5e3de"/><text x="1157.5" y="131">&lt;a0.2&gt;</text></g>
<g id="n_embed" class="n"><rect x="1890" y="101" width="87" height="48" rx="14" fill="#d18aae"/><text x="1933.5" y="131">embed</text></g>
<g id="n_a0_5" class="n"><rect x="3112" y="101" width="95" height="48" rx="14" fill="#0337da"/><text x="3159.5" y="131">&lt;a0.5&gt;</text></g>
<g id="n_a0_7" class="n"><rect x="3589" y="101" width="95" height="48" rx="14" fill="#e0574a"/><text x="3636.5" y="131">&lt;a0.7&gt;</text></g>
<g id="n_a0_4" class="n"><rect x="4061" y="101" width="95" height="48" rx="14" fill="#27a20f"/><text x="4108.5" y="131">&lt;a0.4&gt;</text></g>
<g id="n_a0_0" class="n"><rect x="4764" y="101" width="95" height="48" rx="14" fill="#12071a"/><text x="4811.5" y="131">&lt;a0.0&gt;</text></g>
<g id="n_a0_3" class="n"><rect x="4893" y="101" width="95" height="48" rx="14" fill="#5f5596"/><text x="4940.5" y="131">&lt;a0.3&gt;</text></g>
<g id="n_a0_1" class="n"><rect x="5138" y="101" width="95" height="48" rx="14" fill="#aeaf9b"/><text x="5185.5" y="131">&lt;a0.1&gt;</text></g>
<g id="n_a3_7_k" class="n"><rect x="144" y="197" width="115" height="48" rx="14" fill="#4b16d0"/><text x="201.5" y="227">&lt;a3.7_k&gt;</text></g>
<g id="n_a1_2_q" class="n"><rect x="1449" y="197" width="115" height="48" rx="14" fill="#3ee8ca"/><text x="1506.5" y="227">&lt;a1.2_q&gt;</text></g>
<g id="n_a1_4_k" class="n"><rect x="1691" y="197" width="115" height="48" rx="14" fill="#d31ec4"/><text x="1748.5" y="227">&lt;a1.4_k&gt;</text></g>
<g id="n_a1_2_v" class="n"><rect x="1829" y="197" width="115" height="48" rx="14" fill="#229cf6"/><text x="1886.5" y="227">&lt;a1.2_v&gt;</text></g>
<g id="n_a1_0_q" class="n"><rect x="2526" y="197" width="116" height="48" rx="14" fill="#711336"/><text x="2584" y="227">&lt;a1.0_q&gt;</text></g>
<g id="n_a1_1_q" class="n"><rect x="2718" y="197" width="116" height="48" rx="14" fill="#fe6b74"/><text x="2776" y="227">&lt;a1.1_q&gt;</text></g>
<g id="n_a2_1_k" class="n"><rect x="2859" y="197" width="115" height="48" rx="14" fill="#6ab414"/><text x="2916.5" y="227">&lt;a2.1_k&gt;</text></g>
<g id="n_a1_4_v" class="n"><rect x="3150" y="197" width="114" height="48" rx="14" fill="#44b698"/><text x="3207" y="227">&lt;a1.4_v&gt;</text></g>
<g id="n_a1_7_v" class="n"><rect x="3389" y="197" width="115" height="48" rx="14" fill="#c13fe8"/><text x="3446.5" y="227">&lt;a1.7_v&gt;</text></g>
<g id="n_a1_0_k" class="n"><rect x="3579" y="197" width="115" height="48" rx="14" fill="#a814c9"/><text x="3636.5" y="227">&lt;a1.0_k&gt;</text></g>
<g id="n_a1_1_v" class="n"><rect x="3769" y="197" width="114" height="48" rx="14" fill="#647f36"/><text x="3826" y="227">&lt;a1.1_v&gt;</text></g>
<g id="n_a1_2_k" class="n"><rect x="3957" y="197" width="115" height="48" rx="14" fill="#e10a44"/><text x="4014.5" y="227">&lt;a1.2_k&gt;</text></g>
<g id="n_a2_2_v" class="n"><rect x="4096" y="197" width="115" height="48" rx="14" fill="#6d34d6"/><text x="4153.5" y="227">&lt;a2.2_v&gt;</text></g>
<g id="n_a1_5_q" class="n"><rect x="4235" y="197" width="116" height="48" rx="14" fill="#4433cc"/><text x="4293" y="227">&lt;a1.5_q&gt;</text></g>
<g id="n_a1_5_v" class="n"><rect x="4376" y="197" width="115" height="48" rx="14" fill="#552457"/><text x="4433.5" y="227">&lt;a1.5_v&gt;</text></g>
<g id="n_a1_1_k" class="n"><rect x="4566" y="197" width="114" height="48" rx="14" fill="#ef79e0"/><text x="4623" y="227">&lt;a1.1_k&gt;</text></g>
<g id="n_a1_0_v" class="n"><rect x="4755" y="197" width="114" height="48" rx="14" fill="#d592b4"/><text x="4812" y="227">&lt;a1.0_v&gt;</text></g>
<g id="n_a1_3_v" class="n"><rect x="600" y="293" width="115" height="48" rx="14" fill="#8b7152"/><text x="657.5" y="323">&lt;a1.3_v&gt;</text></g>
<g id="n_a1_2" class="n"><rect x="2229" y="293" width="94" height="48" rx="14" fill="#6f2f35"/><text x="2276" y="323">&lt;a1.2&gt;</text></g>
<g id="n_a1_4" class="n"><rect x="2778" y="293" width="94" height="48" rx="14" fill="#619a0f"/><text x="2825" y="323">&lt;a1.4&gt;</text></g>
<g id="n_a1_7" class="n"><rect x="3390" y="293" width="95" height="48" rx="14" fill="#cbdb91"/><text x="3437.5" y="323">&lt;a1.7&gt;</text></g>
<g id="n_a1_0" class="n"><rect x="3612" y="293" width="94" height="48" rx="14" fill="#df3870"/><text x="3659" y="323">&lt;a1.0&gt;</text></g>
<g id="n_a1_1" class="n"><rect x="4238" y="293" width="95" height="48" rx="14" fill="#8bc52f"/><text x="4285.5" y="323">&lt;a1.1&gt;</text></g>
<g id="n_a1_5" class="n"><rect x="4814" y="293" width="95" height="48" rx="14" fill="#33aea6"/><text x="4861.5" y="323">&lt;a1.5&gt;</text></g>
<g id="n_a2_2_k" class="n"><rect x="1431" y="389" width="115" height="48" rx="14" fill="#11a9e9"/><text x="1488.5" y="419">&lt;a2.2_k&gt;</text></g>
<g id="n_a2_1_v" class="n"><rect x="1569" y="389" width="115" height="48" rx="14" fill="#cfa593"/><text x="1626.5" y="419">&lt;a2.1_v&gt;</text></g>
<g id="n_a2_2_q" class="n"><rect x="1844" y="389" width="117" height="48" rx="14" fill="#6bdaf0"/><text x="1902.5" y="419">&lt;a2.2_q&gt;</text></g>
<g id="n_a2_1_q" class="n"><rect x="2037" y="389" width="116" height="48" rx="14" fill="#0df4fb"/><text x="2095" y="419">&lt;a2.1_q&gt;</text></g>
<g id="n_a2_3_v" class="n"><rect x="2380" y="389" width="115" height="48" rx="14" fill="#fdb5c0"/><text x="2437.5" y="419">&lt;a2.3_v&gt;</text></g>
<g id="n_a2_7_q" class="n"><rect x="2519" y="389" width="117" height="48" rx="14" fill="#3b4f5c"/><text x="2577.5" y="419">&lt;a2.7_q&gt;</text></g>
<g id="n_a2_6_v" class="n"><rect x="2863" y="389" width="114" height="48" rx="14" fill="#dfe8a7"/><text x="2920" y="419">&lt;a2.6_v&gt;</text></g>
<g id="n_a2_4_v" class="n"><rect x="3002" y="389" width="114" height="48" rx="14" fill="#1ef51d"/><text x="3059" y="419">&lt;a2.4_v&gt;</text></g>
<g id="n_a2_0_v" class="n"><rect x="3191" y="389" width="115" height="48" rx="14" fill="#90dd81"/><text x="3248.5" y="419">&lt;a2.0_v&gt;</text></g>
<g id="n_a2_7_v" class="n"><rect x="3329" y="389" width="115" height="48" rx="14" fill="#89e841"/><text x="3386.5" y="419">&lt;a2.7_v&gt;</text></g>
<g id="n_a2_0_q" class="n"><rect x="3469" y="389" width="115" height="48" rx="14" fill="#3cbf60"/><text x="3526.5" y="419">&lt;a2.0_q&gt;</text></g>
<g id="n_a2_5_v" class="n"><rect x="3610" y="389" width="114" height="48" rx="14" fill="#17e5fe"/><text x="3667" y="419">&lt;a2.5_v&gt;</text></g>
<g id="n_a2_3_q" class="n"><rect x="3952" y="389" width="116" height="48" rx="14" fill="#11597a"/><text x="4010" y="419">&lt;a2.3_q&gt;</text></g>
<g id="n_a2_5_k" class="n"><rect x="4092" y="389" width="115" height="48" rx="14" fill="#5dc42d"/><text x="4149.5" y="419">&lt;a2.5_k&gt;</text></g>
<g id="n_a2_0_k" class="n"><rect x="4383" y="389" width="115" height="48" rx="14" fill="#467883"/><text x="4440.5" y="419">&lt;a2.0_k&gt;</text></g>
<g id="n_a1_3" class="n"><rect x="568" y="485" width="96" height="48" rx="14" fill="#610852"/><text x="616" y="515">&lt;a1.3&gt;</text></g>
<g id="n_a1_6" class="n"><rect x="790" y="485" width="95" height="48" rx="14" fill="#212335"/><text x="837.5" y="515">&lt;a1.6&gt;</text></g>
<g id="n_a2_2" class="n"><rect x="1919" y="485" width="95" height="48" rx="14" fill="#344870"/><text x="1966.5" y="515">&lt;a2.2&gt;</text></g>
<g id="n_a2_1" class="n"><rect x="2038" y="485" width="95" height="48" rx="14" fill="#76752f"/><text x="2085.5" y="515">&lt;a2.1&gt;</text></g>
<g id="n_a3_5_q" class="n"><rect x="2721" y="485" width="116" height="48" rx="14" fill="#c86bbf"/><text x="2779" y="515">&lt;a3.5_q&gt;</text></g>
<g id="n_a2_6" class="n"><rect x="3065" y="485" width="95" height="48" rx="14" fill="#80f30e"/><text x="3112.5" y="515">&lt;a2.6&gt;</text></g>
<g id="n_a2_3" class="n"><rect x="3183" y="485" width="95" height="48" rx="14" fill="#1a33a8"/><text x="3230.5" y="515">&lt;a2.3&gt;</text></g>
<g id="n_a2_7" class="n"><rect x="3405" y="485" width="94" height="48" rx="14" fill="#2ba2e4"/><text x="3452" y="515">&lt;a2.7&gt;</text></g>
<g id="n_a2_0" class="n"><rect x="3523" y="485" width="95" height="48" rx="14" fill="#6bae1e"/><text x="3570.5" y="515">&lt;a2.0&gt;</text></g>
<g id="n_a2_4" class="n"><rect x="3839" y="485" width="95" height="48" rx="14" fill="#f171da"/><text x="3886.5" y="515">&lt;a2.4&gt;</text></g>
<g id="n_a2_5" class="n"><rect x="4061" y="485" width="95" height="48" rx="14" fill="#bd2028"/><text x="4108.5" y="515">&lt;a2.5&gt;</text></g>
<g id="n_a3_7_v" class="n"><rect x="1884" y="581" width="115" height="48" rx="14" fill="#c8ef37"/><text x="1941.5" y="611">&lt;a3.7_v&gt;</text></g>
<g id="n_a3_6_k" class="n"><rect x="2023" y="581" width="115" height="48" rx="14" fill="#f7e61f"/><text x="2080.5" y="611">&lt;a3.6_k&gt;</text></g>
<g id="n_a3_6_v" class="n"><rect x="2162" y="581" width="114" height="48" rx="14" fill="#7fbde9"/><text x="2219" y="611">&lt;a3.6_v&gt;</text></g>
<g id="n_a3_5_v" class="n"><rect x="2300" y="581" width="115" height="48" rx="14" fill="#7e4c16"/><text x="2357.5" y="611">&lt;a3.5_v&gt;</text></g>
<g id="n_a3_7_q" class="n"><rect x="2440" y="581" width="115" height="48" rx="14" fill="#62feee"/><text x="2497.5" y="611">&lt;a3.7_q&gt;</text></g>
<g id="n_a3_6_q" class="n"><rect x="2918" y="581" width="116" height="48" rx="14" fill="#f23fe1"/><text x="2976" y="611">&lt;a3.6_q&gt;</text></g>
<g id="n_a3_5_k" class="n"><rect x="3059" y="581" width="114" height="48" rx="14" fill="#d43bd6"/><text x="3116" y="611">&lt;a3.5_k&gt;</text></g>
<g id="n_a3_0_k" class="n"><rect x="3373" y="581" width="115" height="48" rx="14" fill="#4fd4de"/><text x="3430.5" y="611">&lt;a3.0_k&gt;</text></g>
<g id="n_a3_0_q" class="n"><rect x="3513" y="581" width="116" height="48" rx="14" fill="#363639"/><text x="3571" y="611">&lt;a3.0_q&gt;</text></g>
<g id="n_a3_0_v" class="n"><rect x="4389" y="581" width="115" height="48" rx="14" fill="#d9eed2"/><text x="4446.5" y="611">&lt;a3.0_v&gt;</text></g>
<g id="n_a3_7" class="n"><rect x="2068" y="677" width="94" height="48" rx="14" fill="#538ecb"/><text x="2115" y="707">&lt;a3.7&gt;</text></g>
<g id="n_a3_6" class="n"><rect x="2361" y="677" width="95" height="48" rx="14" fill="#52f22e"/><text x="2408.5" y="707">&lt;a3.6&gt;</text></g>
<g id="n_a3_5" class="n"><rect x="2723" y="677" width="95" height="48" rx="14" fill="#d8825b"/><text x="2770.5" y="707">&lt;a3.5&gt;</text></g>
<g id="n_a3_0" class="n"><rect x="3453" y="677" width="95" height="48" rx="14" fill="#38669f"/><text x="3500.5" y="707">&lt;a3.0&gt;</text></g>
<g id="n_resid_post" class="n"><rect x="2609" y="773" width="148" height="48" rx="14" fill="#53903b"/><text x="2683" y="803">&lt;resid_post&gt;</text></g>
</svg>
